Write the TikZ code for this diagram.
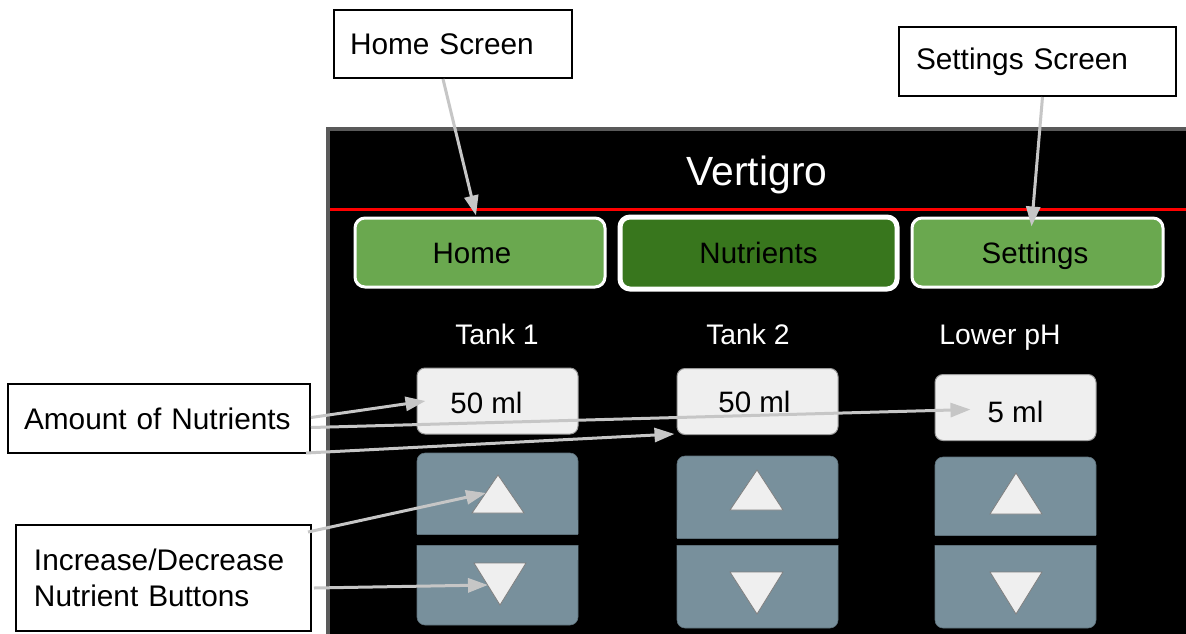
\documentclass[tikz,border=0pt]{standalone}
\usepackage{fontspec}
\setmainfont{Liberation Sans}
\usetikzlibrary{arrows.meta}
\definecolor{homegreen}{HTML}{6AA84F}
\definecolor{darkgreen}{HTML}{38761D}
\definecolor{btnblue}{HTML}{78909C}
\definecolor{btnedge}{HTML}{5E717B}
\definecolor{valgray}{HTML}{EFEFEF}
\definecolor{valedge}{HTML}{9A9A9A}
\definecolor{arrowgray}{HTML}{C6C6C6}
\definecolor{screenedge}{HTML}{5A5A5A}
\begin{document}
\begin{tikzpicture}[x=1pt,y=-1pt,
  annot/.style={draw=black, line width=2pt, fill=white, font=\fontsize{29.8}{36}\selectfont, align=left, inner ysep=0pt},
  tab/.style={rounded corners=10pt, draw=white, line width=3pt, font=\fontsize{29.5}{36}\selectfont, text=black, minimum height=69, text height=21.2pt, text depth=0pt},
  valbox/.style={fill=valgray, draw=valedge, line width=1pt, rounded corners=8pt, minimum width=161, minimum height=66, font=\fontsize{29.5}{36}\selectfont, text height=21.2pt, text depth=0pt},
  tanklbl/.style={text=white, font=\fontsize{28.3}{34}\selectfont, text height=20.3pt, text depth=0pt},
  tri/.style={fill=valgray, draw=gray, line width=0.8pt},
  btnpart/.style={fill=btnblue, draw=btnedge, line width=0.6pt},
  callout/.style={draw=arrowgray, line width=3pt, -{Triangle[length=20pt,width=14pt]}}]
\useasboundingbox (0,0) rectangle (1186,633);
\fill[white] (0,0) rectangle (1186,633);
% screen
\draw[draw=screenedge, line width=4pt, fill=black] (328,129) rectangle (1200,650);
\node[text=white, font=\fontsize{40.8}{48}\selectfont, text height=29.2pt, text depth=0pt] (title) at (757,171) {Vertigro};
\draw[red, line width=3pt] (330,209) -- (1186,209);
% tabs
\node[tab, fill=homegreen, minimum width=250] (home) at (480,252.5) {\hspace*{-16pt}Home};
\node[tab, fill=darkgreen, line width=5pt, minimum width=277, minimum height=72] (nutr) at (758.5,253) {Nutrients};
\node[tab, fill=homegreen, minimum width=251] (settings) at (1037.5,252.5) {\hspace*{-5pt}Settings};
% tank labels
\node[tanklbl] (t1) at (497,334) {Tank 1};
\node[tanklbl] (t2) at (748,334) {Tank 2};
\node[tanklbl] (t3) at (1000,334) {Lower pH};
% value boxes
\node[valbox] (v1) at (497.5,401) {\hspace*{-22pt}\raisebox{-2pt}{50 ml}};
\node[valbox] (v2) at (757.5,401.5) {\hspace*{-6pt}50 ml};
\node[valbox] (v3) at (1015.5,407.5) {\raisebox{-4.5pt}{5 ml}};
% buttons column 1
\draw[btnpart, rounded corners=8pt] (417,534) -- (417,453) -- (578,453) -- (578,534);
\fill[btnblue] (417.3,520) rectangle (577.7,533.7);
\draw[btnpart] (417,534) -- (578,534);
\draw[btnpart, rounded corners=8pt] (417,545) -- (417,625) -- (578,625) -- (578,545);
\fill[btnblue] (417.3,545.3) rectangle (577.7,560);
\draw[btnpart] (417,545) -- (578,545);
% buttons column 2
\draw[btnpart, rounded corners=8pt] (677,538) -- (677,456) -- (838,456) -- (838,538);
\fill[btnblue] (677.3,520) rectangle (837.7,537.7);
\draw[btnpart] (677,538) -- (838,538);
\draw[btnpart, rounded corners=8pt] (677,545) -- (677,628) -- (838,628) -- (838,545);
\fill[btnblue] (677.3,545.3) rectangle (837.7,560);
\draw[btnpart] (677,545) -- (838,545);
% buttons column 3
\draw[btnpart, rounded corners=8pt] (935,535) -- (935,457) -- (1096,457) -- (1096,535);
\fill[btnblue] (935.3,520) rectangle (1095.7,534.7);
\draw[btnpart] (935,535) -- (1096,535);
\draw[btnpart, rounded corners=8pt] (935,545) -- (935,628) -- (1096,628) -- (1096,545);
\fill[btnblue] (935.3,545.3) rectangle (1095.7,560);
\draw[btnpart] (935,545) -- (1096,545);
% triangles
\draw[tri] (498,475) -- (524,513) -- (472,513) -- cycle;
\draw[tri] (474,563) -- (526,563) -- (500,605) -- cycle;
\draw[tri] (757,470) -- (783,510) -- (730,510) -- cycle;
\draw[tri] (730,572) -- (783,572) -- (757,614) -- cycle;
\draw[tri] (1016,473) -- (1042,514) -- (990,514) -- cycle;
\draw[tri] (990,572) -- (1042,572) -- (1016,614) -- cycle;
\coordinate (up1) at (486,493);
\coordinate (down1) at (488,585);
% annotation boxes
\node[annot, text width=206pt, inner xsep=16pt, minimum height=68] (hs) at (453,44) {Home Screen};
\node[annot, text width=243pt, inner xsep=17pt, minimum height=69] (ss) at (1037.5,61.5) {Settings Screen};
\node[annot, text width=270pt, inner xsep=16pt, minimum height=69] (amt) at (159,418.5) {Amount of Nutrients};
\node[annot, text width=259pt, inner xsep=18pt, minimum height=106] (ib) at (163.5,578) {Increase/Decrease\\Nutrient Buttons};
% callout arrows
\draw[callout] ([xshift=-10pt]hs.south) -- ([xshift=-4pt,yshift=1pt]home.north);
\draw[callout] ([xshift=5pt]ss.south) -- ([xshift=-6pt,yshift=-10pt]settings.north);
\draw[callout] ([yshift=1pt]amt.east) -- ([xshift=9pt]v1.west);
\draw[callout] ([yshift=-9pt]amt.east) -- ([xshift=36pt,yshift=-2pt]v3.west);
\draw[callout] ([xshift=-5pt,yshift=1pt]amt.south east) -- ([xshift=-2pt,yshift=1pt]v2.south west);
\draw[callout] ([xshift=-4pt,yshift=-8pt]ib.north east) -- (up1);
\draw[callout] ([xshift=2pt,yshift=-10pt]ib.east) -- (down1);
\end{tikzpicture}
\end{document}
